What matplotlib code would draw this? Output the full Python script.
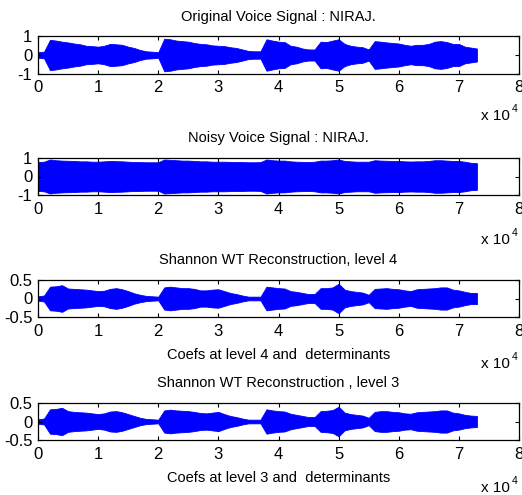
import numpy as np
import matplotlib
matplotlib.use('Agg')
import matplotlib.pyplot as plt

plt.rcParams['font.family'] = ['Liberation Sans Narrow', 'Liberation Sans', 'DejaVu Sans']

# sample index of each envelope reading (every 1000 samples)
positions = np.arange(0, 73001, 1000)

# peak amplitude of the signals, read every 1000 samples
original_amp = [0.15, 0.18, 0.82, 0.78, 0.72, 0.68, 0.62, 0.58, 0.50, 0.48,
                0.45, 0.50, 0.60, 0.58, 0.55, 0.45, 0.38, 0.27, 0.20, 0.18,
                0.15, 0.88, 0.85, 0.78, 0.75, 0.72, 0.65, 0.60, 0.58, 0.52,
                0.50, 0.48, 0.42, 0.38, 0.30, 0.22, 0.20, 0.20, 0.85, 0.78,
                0.72, 0.70, 0.50, 0.45, 0.35, 0.30, 0.30, 0.72, 0.70, 0.78,
                0.85, 0.60, 0.50, 0.45, 0.42, 0.30, 0.75, 0.72, 0.68, 0.65,
                0.62, 0.55, 0.50, 0.55, 0.55, 0.60, 0.72, 0.75, 0.70, 0.60,
                0.60, 0.45, 0.40, 0.35]

noisy_amp = [0.78, 0.80, 0.92, 0.88, 0.86, 0.85, 0.84, 0.82, 0.82, 0.80,
             0.80, 0.82, 0.84, 0.83, 0.82, 0.80, 0.78, 0.78, 0.77, 0.77,
             0.77, 0.92, 0.90, 0.88, 0.86, 0.86, 0.84, 0.82, 0.82, 0.80,
             0.80, 0.80, 0.79, 0.78, 0.78, 0.77, 0.77, 0.78, 0.92, 0.88,
             0.86, 0.86, 0.82, 0.80, 0.79, 0.78, 0.80, 0.86, 0.86, 0.88,
             0.92, 0.84, 0.82, 0.80, 0.80, 0.80, 0.88, 0.86, 0.85, 0.84,
             0.84, 0.82, 0.81, 0.82, 0.82, 0.84, 0.88, 0.88, 0.86, 0.84,
             0.84, 0.80, 0.74, 0.72]

level4_amp = [0.06, 0.08, 0.32, 0.33, 0.36, 0.27, 0.26, 0.25, 0.24, 0.22,
              0.20, 0.21, 0.26, 0.28, 0.25, 0.20, 0.14, 0.10, 0.07, 0.06,
              0.05, 0.30, 0.32, 0.30, 0.28, 0.28, 0.26, 0.22, 0.22, 0.24,
              0.25, 0.20, 0.15, 0.12, 0.08, 0.05, 0.05, 0.05, 0.32, 0.30,
              0.28, 0.27, 0.20, 0.18, 0.15, 0.12, 0.12, 0.28, 0.28, 0.30,
              0.40, 0.24, 0.20, 0.18, 0.16, 0.10, 0.26, 0.27, 0.28, 0.26,
              0.25, 0.22, 0.20, 0.25, 0.26, 0.27, 0.28, 0.30, 0.30, 0.24,
              0.22, 0.18, 0.15, 0.15]

level3_amp = [0.06, 0.08, 0.33, 0.34, 0.37, 0.28, 0.26, 0.25, 0.24, 0.22,
              0.20, 0.22, 0.27, 0.28, 0.25, 0.20, 0.15, 0.10, 0.07, 0.06,
              0.05, 0.30, 0.32, 0.30, 0.29, 0.28, 0.26, 0.23, 0.22, 0.24,
              0.26, 0.20, 0.15, 0.12, 0.08, 0.05, 0.05, 0.05, 0.33, 0.30,
              0.28, 0.27, 0.21, 0.18, 0.15, 0.12, 0.12, 0.28, 0.29, 0.31,
              0.40, 0.24, 0.20, 0.18, 0.16, 0.10, 0.26, 0.28, 0.28, 0.26,
              0.25, 0.22, 0.21, 0.25, 0.26, 0.27, 0.28, 0.30, 0.30, 0.24,
              0.22, 0.18, 0.16, 0.15]

titles = ['Original Voice Signal : NIRAJ.',
          'Noisy Voice Signal : NIRAJ.',
          'Shannon WT Reconstruction, level 4',
          'Shannon WT Reconstruction , level 3']
xlabels = [None, None,
           'Coefs at level 4 and  determinants',
           'Coefs at level 3 and  determinants']
signals = [original_amp, noisy_amp, level4_amp, level3_amp]
ylims = [1, 1, 0.5, 0.5]
yticks = [[-1, 0, 1], [-1, 0, 1], [-0.5, 0, 0.5], [-0.5, 0, 0.5]]
yticklabels = [['-1', '0', '1'], ['-1', '0', '1'],
               ['-0.5', '0', '0.5'], ['-0.5', '0', '0.5']]
xtick_vals = np.arange(0, 9)

W, H = 522, 495
fig = plt.figure(figsize=(W / 100, H / 100), dpi=100)

# axes boxes in pixels: top, bottom
boxes = [(36.5, 73.5), (158, 195), (280, 317), (403, 440)]
title_y = [17, 138, 260, 383]
xlabel_y = [None, None, 355, 478]
expo_y = [116, 240, 364, 488]
left_px, right_px = 38, 519

for i in range(4):
    top, bot = boxes[i]
    ax = fig.add_axes([left_px / W, 1 - bot / H, (right_px - left_px) / W, (bot - top) / H])
    amp = np.array(signals[i])
    ax.fill_between(positions, -amp, amp, color='blue', lw=0.6, edgecolor='blue')
    ax.set_xlim(0, 80000)
    ax.set_ylim(-ylims[i], ylims[i])
    ax.set_xticks(xtick_vals * 10000)
    ax.set_xticklabels([str(v) for v in xtick_vals])
    ax.set_yticks(yticks[i])
    ax.set_yticklabels(yticklabels[i])
    ax.tick_params(direction='in', top=True, right=True, length=3, width=0.8,
                   labelsize=12, colors='black')
    ax.tick_params(axis='x', pad=5)
    ax.tick_params(axis='y', pad=4)
    for s in ax.spines.values():
        s.set_linewidth(0.9)

    cx = (left_px + right_px) / 2 / W
    fig.text(cx, 1 - title_y[i] / H, titles[i], ha='center', va='center', fontsize=10.5)
    if xlabels[i]:
        fig.text(cx, 1 - xlabel_y[i] / H, xlabels[i], ha='center', va='center', fontsize=10.5)
    fig.text(510 / W, 1 - expo_y[i] / H, 'x 10', ha='right', va='center', fontsize=11)
    fig.text(512 / W, 1 - (expo_y[i] - 7) / H, '4', ha='left', va='center', fontsize=7.5)

fig.savefig('out.png', dpi=100)
